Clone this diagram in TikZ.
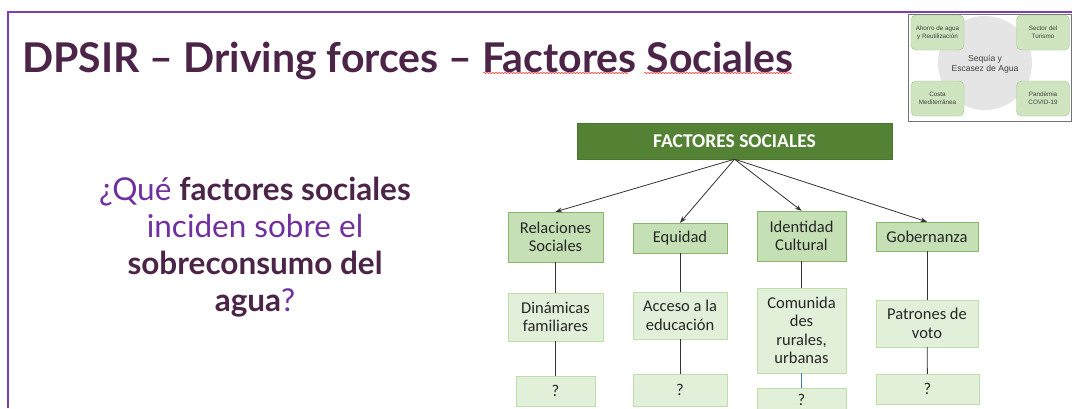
\documentclass[tikz,border=0pt]{standalone}
\usepackage{fontspec}
\setmainfont{Carlito}
\newfontfamily\slidefont{Lato}
\newfontfamily\thumbfont{Liberation Sans}
\usetikzlibrary{arrows.meta,positioning,decorations.pathmorphing}
\definecolor{framepurple}{RGB}{126,62,180}
\definecolor{titleplum}{RGB}{76,36,72}
\definecolor{askpurple}{RGB}{112,48,160}
\definecolor{headgreen}{RGB}{84,130,53}
\definecolor{midgreen}{RGB}{197,224,180}
\definecolor{midedge}{RGB}{140,180,110}
\definecolor{lowgreen}{RGB}{226,240,217}
\definecolor{lowedge}{RGB}{190,222,170}
\definecolor{linkblue}{RGB}{68,114,196}

\begin{document}
\begin{tikzpicture}[x=1pt,y=-1pt,>=Stealth, every node/.style={font=\fontsize{16.5}{18.5}\selectfont}]
    \tikzset{headbox/.style={draw=headgreen!90!black,fill=headgreen,text=white,inner sep=0pt,font=\fontsize{19.5}{22}\selectfont\bfseries}}
    \tikzset{factor/.style={draw=midedge,fill=midgreen,inner sep=0pt,align=center,text=black!85}}
    \tikzset{detail/.style={draw=lowedge,fill=lowgreen,inner sep=0pt,align=center,text=black!85}}
    \tikzset{corner/.style={draw=midedge!80,fill=midgreen!85,rounded corners=5pt,inner sep=0pt,align=center,minimum width=53pt,minimum height=35pt,font=\thumbfont\fontsize{6.3}{8}\selectfont,text=black!75}}
    \tikzset{link/.style={draw=black!80,line width=0.8pt}}
    \useasboundingbox (0,0) rectangle (1072,408);
    \clip (0,0) rectangle (1072,408);

    % Frame
    \fill[white] (0,0) rectangle (1072,408);
    \draw[framepurple,line width=1.8pt] (8,408) -- (8,12) -- (1072,12);

    % Title
    \node[anchor=base west,inner sep=0pt,text=titleplum,font=\slidefont\fontsize{41}{48}\selectfont\bfseries] (title) at (22,72) {DPSIR – Driving forces – Factores Sociales};
    \draw[red!80,line width=0.5pt,decorate,decoration={snake,amplitude=0.8pt,segment length=3pt}] (483,73) -- (628,73);
    \draw[red!80,line width=0.5pt,decorate,decoration={snake,amplitude=0.8pt,segment length=3pt}] (644,73) -- (792,73);

    % Question
    \node[align=center,inner sep=0pt,font=\slidefont\fontsize{31.5}{37}\selectfont] (ask) at (255,247)
      {\textcolor{askpurple}{¿Qué} \textcolor{titleplum}{\bfseries factores sociales}\\
       \textcolor{askpurple}{inciden sobre el}\\
       \textcolor{titleplum}{\bfseries sobreconsumo del}\\
       \textcolor{titleplum}{\bfseries agua}\textcolor{askpurple}{?}};

    % Thumbnail
    \draw[black!55,fill=white,line width=0.6pt] (908,14) rectangle (1071,121);
    \fill[black!10] (985,63) circle (47);
    \node[corner] (ahorro) at (937.5,32.5) {Ahorro de agua\\y Reutilización};
    \node[corner] (turismo) at (1043,32.5) {Sector del\\Turismo};
    \node[corner] (costa) at (937.5,98.5) {Costa\\Mediterránea};
    \node[corner] (covid) at (1043,98.5) {Pandèmia\\COVID-19};
    \node[align=center,inner sep=0pt,font=\thumbfont\fontsize{8.6}{10.5}\selectfont,text=black!75] (sequia) at (985,64) {Sequía y\\Escasez de Agua};

    % Tree
    \node[headbox,minimum width=315pt,minimum height=36pt] (top) at (734.5,141) {FACTORES SOCIALES};

    \node[factor,minimum width=95pt,minimum height=50pt] (rel) at (555.5,237) {Relaciones\\Sociales};
    \node[factor,minimum width=94pt,minimum height=30pt] (equ) at (680,238) {Equidad};
    \node[factor,minimum width=89pt,minimum height=50pt] (ide) at (801.5,236) {Identidad\\Cultural};
    \node[factor,minimum width=102pt,minimum height=29pt] (gob) at (927,236.5) {Gobernanza};

    \node[detail,minimum width=95pt,minimum height=48pt] (din) at (555.5,317) {Dinámicas\\familiares};
    \node[detail,minimum width=94pt,minimum height=47pt] (acc) at (680,315.5) {Acceso a la\\educación};
    \node[detail,minimum width=89pt,minimum height=85pt] (com) at (801.5,330.5) {Comunida\\des\\rurales,\\urbanas};
    \node[detail,minimum width=102pt,minimum height=47pt] (pat) at (927,323.5) {Patrones de\\voto};

    \node[detail,minimum width=79pt,minimum height=30pt] (q1) at (555.5,391) {?};
    \node[detail,minimum width=94pt,minimum height=32pt] (q2) at (680,390) {?};
    \node[detail,minimum width=89pt,minimum height=24pt] (q3) at (801.5,400) {?};
    \node[detail,minimum width=103pt,minimum height=30pt] (q4) at (927.5,389) {?};

    \foreach \kid in {rel,equ,ide,gob}
      \draw[link,->] (top.south) -- (\kid.north);
    \draw[link] (rel) -- (din);
    \draw[link] (equ) -- (acc);
    \draw[link] (ide) -- (com);
    \draw[link] (gob) -- (pat);
    \draw[link] (din) -- (q1);
    \draw[link] (acc) -- (q2);
    \draw[linkblue,line width=0.8pt] (com) -- (q3);
    \draw[link] (pat) -- (q4);
\end{tikzpicture}
\end{document}
